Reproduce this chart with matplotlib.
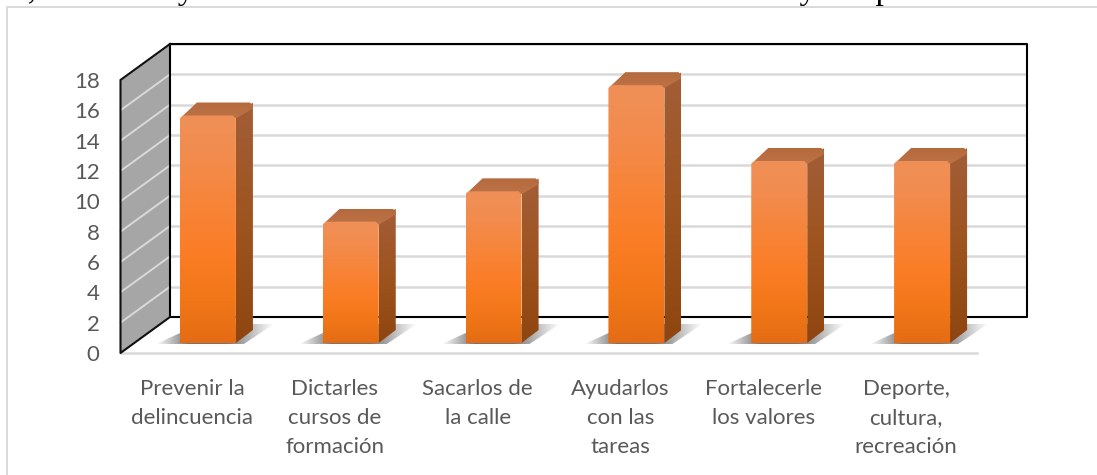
import numpy as np
import matplotlib
matplotlib.use("Agg")
import matplotlib.pyplot as plt
from matplotlib.patches import Polygon
from matplotlib.colors import LinearSegmentedColormap

categories = ["Prevenir la\ndelincuencia", "Dictarles\ncursos de\nformación", "Sacarlos de\nla calle",
              "Ayudarlos\ncon las\ntareas", "Fortalecerle\nlos valores", "Deporte,\ncultura,\nrecreación"]
values = [15, 8, 10, 17, 12, 12]
yticks = list(range(0, 20, 2))
top_line_a = "es, la cultura y la recreación. Ovó sen la tación"
top_line_b = "en valores y se apartan de las calles"

W, H = 1097, 475
fig = plt.figure(figsize=(W / 100, H / 100), dpi=100, facecolor="white")
L, R, B, T = 120.5, 977.5, 353.0, 80.0
ax = fig.add_axes([L / W, 1 - B / H, (R - L) / W, (B - T) / H])
ax.set_xlim(-0.5, 5.5)
ax.set_ylim(0, 18)
ax.patch.set_visible(False)
for s in ax.spines.values():
    s.set_visible(False)

ux = (R - L) / 6          # px per category
uy = (B - T) / 18         # px per value unit
DX, DY = 49.5 / ux, 36.0 / uy     # full floor depth
BX, BY = 16.0 / ux, 10.0 / uy     # depth of the bars' front face
SX, SY = 17.0 / ux, 13.0 / uy     # depth of a bar
BW = 56.0 / ux
x0, x1 = -0.5, 5.5
ymax = 18

# outer chart frame
fig.add_artist(plt.Line2D([7 / W, 7 / W, 1], [0, 1 - 7 / H, 1 - 7 / H], color="#D9D9D9", lw=1.4))

# left wall
ax.add_patch(Polygon([(x0, 0), (x0 + DX, DY), (x0 + DX, ymax + DY), (x0, ymax)], closed=True,
                     fc="#A6A6A6", ec="none", clip_on=False, zorder=1))
for v in yticks[1:]:
    ax.plot([x0, x0 + DX], [v, v + DY], color="#D9D9D9", lw=1.4, clip_on=False, zorder=1.5)
    ax.plot([x0 + DX, x1 + DX], [v + DY, v + DY], color="#D9D9D9", lw=1.8, clip_on=False, zorder=1.5,
            solid_capstyle="butt")
# floor front edge
ax.plot([x0, x1], [0, 0], color="#D9D9D9", lw=1.8, clip_on=False, zorder=1.5)
# frame
ax.plot([x0 + DX, x0 + DX, x1 + DX, x1 + DX, x0 + DX], [ymax + DY, DY, DY, ymax + DY, ymax + DY],
        color="black", lw=1.5, clip_on=False, zorder=2)
ax.plot([x0 + DX, x0, x0, x0 + DX], [ymax + DY, ymax, 0, DY], color="#111111", lw=1.5, clip_on=False, zorder=2)


def grad_poly(pts, colors, extent, zorder):
    cmap = LinearSegmentedColormap.from_list("g", colors)
    data = np.linspace(0, 1, 256)[:, None]
    im = ax.imshow(data, cmap=cmap, extent=extent, origin="upper", aspect="auto", zorder=zorder,
                   interpolation="bilinear", vmin=0, vmax=1)
    poly = Polygon(pts, closed=True, transform=ax.transData, fc="none", ec="none")
    im.set_clip_box(fig.bbox)
    im.set_clip_path(poly)
    return im


front_cols = ["#EF9058", "#F38B4C", "#F78438", "#FB7D26", "#F27718", "#E56C14"]
side_cols = ["#A35E38", "#9E541F", "#8F4510"]
top_cols = ["#B56A3E", "#BC7346"]

for i, v in enumerate(values):
    xl = i - BW / 2 + BX
    xr = i + BW / 2 + BX
    y0 = BY
    y1 = v + BY
    # shadow
    sx0, sx1 = xl - 24 / ux, xr + 38 / ux
    sy0, sy1 = y0 - 1 / uy, y0 + 19 / uy
    alpha = np.interp(np.linspace(0, 1, 200), [0, 0.28, 0.6, 1], [0, 0.85, 0.85, 0])
    rgba = np.zeros((1, 200, 4))
    rgba[..., :3] = 0.36
    rgba[..., 3] = alpha
    im = ax.imshow(rgba, extent=(sx0, sx1, sy0, sy1), aspect="auto", zorder=3, interpolation="bilinear")
    shadow = Polygon([(sx0, sy0), (xr + 8 / ux, sy0), (sx1, sy1), (xl + 20 / ux, sy1)], closed=True,
                     transform=ax.transData, fc="none", ec="none")
    im.set_clip_box(fig.bbox)
    im.set_clip_path(shadow)
    # side
    grad_poly([(xr, y0), (xr + SX, y0 + SY), (xr + SX, y1 + SY), (xr, y1)], side_cols,
              (xr, xr + SX, y0, y1 + SY), 4)
    # top (corners softly rounded)
    cut = 3 / uy
    cx = 3 / ux
    grad_poly([(xl, y1 - cut), (xl + SX, y1 + SY), (xr + SX - cx, y1 + SY), (xr + SX, y1 + SY - cut),
               (xr + SX, y1 + SY - 2 * cut), (xr, y1 - cut)], top_cols,
              (xl, xr + SX, y1 - cut, y1 + SY), 4)
    # front
    grad_poly([(xl, y0), (xr, y0), (xr, y1 - cut), (xr - cx, y1), (xl + cx, y1), (xl, y1 - cut)], front_cols,
              (xl, xr, y0, y1), 5)

ax.set_xlim(-0.5, 5.5)
ax.set_ylim(0, 18)
font = "Lato"
ax.set_xticks(range(6), categories, fontsize=16, family=font, color="#595959", linespacing=1.58)
ax.set_yticks(yticks, [str(t) for t in yticks], fontsize=16, family=font, color="#595959")
ax.tick_params(axis="both", length=0)
ax.tick_params(axis="x", pad=18.5)
ax.tick_params(axis="y", pad=15)

fig.text(0, 1 + 1 / H, top_line_a, family="Liberation Serif", fontsize=24, color="black", ha="left", va="baseline")
fig.text(655 / W, 1 + 1 / H, top_line_b, family="Liberation Serif", fontsize=24, color="black", ha="left", va="baseline")

fig.savefig("out.png", dpi=100)
